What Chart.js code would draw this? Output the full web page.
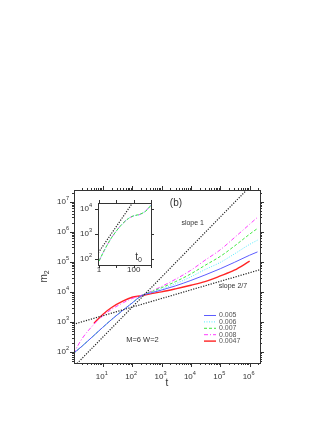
<!DOCTYPE html>
<html>
<head>
<meta charset="utf-8">
<script src="https://cdn.jsdelivr.net/npm/chart.js@4.4.1/dist/chart.umd.min.js"></script>
<style>
html, body { margin: 0; padding: 0; background: #fff; }
#wrap { position: relative; width: 333px; height: 430px; }
#wrap canvas { position: absolute; left: 0; top: 0; }
</style>
</head>
<body>
<div id="wrap">
  <canvas id="mainChart" width="333" height="430"></canvas>
  <canvas id="insetChart" width="333" height="430"></canvas>
</div>
<script>
// ---- main panel data (t vs m2) ----
const tGrid = [1, 2, 5, 10, 20, 50, 100, 200, 500, 1000, 3000, 1e4, 3e4, 1e5, 3e5, 1e6, 1.85e6];
const m005 = [89, 158, 355, 661, 1202, 2512, 4266, 7244, 9550, 11480, 15850, 23990, 36310, 58880, 95500, 166000, 213800];
const m006 = [89, 158, 355, 661, 1202, 2512, 4266, 7244, 10000, 12590, 18620, 31620, 54950, 95500, 182000, 380200, 524800];
const m007 = [89, 158, 355, 661, 1202, 2512, 4266, 7244, 10470, 13800, 21880, 39810, 75860, 151400, 331100, 831800, 1288000];
const m008 = [89, 282, 832, 1585, 2630, 4365, 6026, 7586, 10965, 15136, 26300, 52480, 112200, 251200, 631000, 1778000, 3020000];
const tRed = [5, 10, 20, 50, 100, 200, 500, 1000, 3000, 1e4, 3e4, 1e5, 3e5, 1e6];
const m0047 = [891, 1778, 3020, 5012, 6607, 7413, 8913, 10000, 12590, 16600, 21880, 33880, 52480, 104700];
const seriesLabels = ['0.005', '0.006', '0.007', '0.008', '0.0047'];

// guide lines
const tSlope1 = [1, 3e6];
const mSlope1 = [31, 9.3e7];
const tSlope27 = [1, 2.25e6];
const mSlope27 = [832, 54700];

// ---- inset data (t0 vs m2) ----
const t0Grid = [1, 2, 5, 10, 20, 50, 100, 200, 500, 1000];
const insetGreen = [85, 224, 676, 1318, 2344, 4100, 5300, 5900, 8100, 13800];
const insetCyan = [85, 224, 676, 1318, 2344, 4169, 5248, 5754, 8318, 14450];
const insetMag = [85, 224, 676, 1318, 2344, 4169, 5248, 5754, 8318, 14450];
const t0Line = [0.9, 100];
const mLine = [180, 20000];

const FONT = '"Liberation Sans", Arial, Helvetica, sans-serif';
const TXT = '#333';

function pts(xs, ys) { return xs.map((x, i) => ({ x: x, y: ys[i] })); }

function drawPow(ctx, exp, x, y, align, size) {
    const base = '10', e = String(exp);
    ctx.font = size + 'px ' + FONT;
    const wb = ctx.measureText(base).width;
    ctx.font = (size * 0.7) + 'px ' + FONT;
    const we = ctx.measureText(e).width;
    const w = wb + we;
    const x0 = align === 'right' ? x - w : x - w / 2;
    ctx.textAlign = 'left';
    ctx.textBaseline = 'middle';
    ctx.font = size + 'px ' + FONT;
    ctx.fillText(base, x0, y);
    ctx.font = (size * 0.7) + 'px ' + FONT;
    ctx.fillText(e, x0 + wb, y - size * 0.42);
}

function logTickValues(scale, withMinor) {
    const out = [];
    const lo = Math.floor(Math.log10(scale.min)), hi = Math.ceil(Math.log10(scale.max));
    for (let n = lo; n <= hi; n++) {
        for (let k = 1; k <= 9; k++) {
            if (!withMinor && k > 1) continue;
            const v = k * Math.pow(10, n);
            if (v >= scale.min * 0.999 && v <= scale.max * 1.001) out.push({ v: v, major: k === 1, exp: n });
        }
    }
    return out;
}

// frame, ticks and tick labels for a log-log panel
function framePlugin(cfg) {
    return {
        id: 'frame',
        afterDraw(chart) {
            const ctx = chart.ctx, a = chart.chartArea;
            const xs = chart.scales.x, ys = chart.scales.y;
            ctx.save();
            ctx.strokeStyle = '#333';
            ctx.lineWidth = 1;
            ctx.strokeRect(Math.round(a.left) + 0.5, Math.round(a.top) + 0.5, Math.round(a.right - a.left), Math.round(a.bottom - a.top));
            ctx.beginPath();
            logTickValues(xs, cfg.minor).forEach(t => {
                const px = Math.round(xs.getPixelForValue(t.v)) + 0.5;
                const L = t.major ? cfg.major : cfg.minorLen;
                ctx.moveTo(px, a.bottom); ctx.lineTo(px, a.bottom + L);
                ctx.moveTo(px, a.top); ctx.lineTo(px, a.top - L);
            });
            logTickValues(ys, cfg.minor).forEach(t => {
                const py = Math.round(ys.getPixelForValue(t.v)) + 0.5;
                const L = t.major ? cfg.major : cfg.minorLen;
                ctx.moveTo(a.left, py); ctx.lineTo(a.left - L, py);
                ctx.moveTo(a.right, py); ctx.lineTo(a.right + L, py);
            });
            ctx.stroke();
            ctx.fillStyle = TXT;
            logTickValues(ys, false).forEach(t => {
                drawPow(ctx, t.exp, a.left - cfg.yPad, ys.getPixelForValue(t.v), 'right', cfg.fontSize);
            });
            logTickValues(xs, false).forEach(t => {
                const px = xs.getPixelForValue(t.v);
                if (cfg.xPlain) {
                    const lab = cfg.xPlain[t.v];
                    if (lab === undefined) return;
                    ctx.font = cfg.fontSize + 'px ' + FONT;
                    ctx.textAlign = 'center'; ctx.textBaseline = 'middle';
                    ctx.fillText(lab, px, a.bottom + cfg.xPad);
                } else {
                    if (t.exp < 1) return;
                    drawPow(ctx, t.exp, px - 1, a.bottom + cfg.xPad, 'center', cfg.fontSize);
                }
            });
            if (cfg.extra) cfg.extra(chart, ctx, a, xs, ys);
            ctx.restore();
        }
    };
}

function sub(ctx, main, s, x, y, size) {
    ctx.font = size + 'px ' + FONT;
    const w1 = ctx.measureText(main).width;
    ctx.font = (size * 0.7) + 'px ' + FONT;
    const w2 = ctx.measureText(s).width;
    const x0 = x - (w1 + w2) / 2;
    ctx.textAlign = 'left'; ctx.textBaseline = 'middle';
    ctx.font = size + 'px ' + FONT;
    ctx.fillText(main, x0, y);
    ctx.font = (size * 0.7) + 'px ' + FONT;
    ctx.fillText(s, x0 + w1, y + size * 0.3);
}

const colors = ['#5c5cff', '#55eaff', '#3fe83f', '#ff3cff', '#ff2424'];
const dashes = [[], [1, 1.5], [3, 2], [4, 2, 1, 2], []];
const widths = [1, 1, 1, 1, 1.4];

function lineDs(label, data, i) {
    return {
        label: label, data: data, borderColor: colors[i], borderWidth: widths[i],
        borderDash: dashes[i], pointRadius: 0, fill: false, cubicInterpolationMode: 'monotone'
    };
}
function guideDs(data) {
    return { label: '', data: data, borderColor: '#222', borderWidth: 1.2, borderDash: [1.2, 1.4], pointRadius: 0, fill: false };
}

new Chart(document.getElementById('mainChart'), {
    type: 'line',
    data: {
        datasets: [
            guideDs(pts(tSlope1, mSlope1)),
            guideDs(pts(tSlope27, mSlope27)),
            lineDs(seriesLabels[0], pts(tGrid, m005), 0),
            lineDs(seriesLabels[1], pts(tGrid, m006), 1),
            lineDs(seriesLabels[2], pts(tGrid, m007), 2),
            lineDs(seriesLabels[3], pts(tGrid, m008), 3),
            lineDs(seriesLabels[4], pts(tRed, m0047), 4)
        ]
    },
    options: {
        responsive: false,
        animation: false,
        layout: { padding: { left: 0, top: 190, right: 73, bottom: 0 } },
        plugins: { legend: { display: false }, tooltip: { enabled: false } },
        scales: {
            x: {
                type: 'logarithmic', min: 1.05, max: 2.25e6,
                grid: { display: false, drawTicks: false }, border: { display: false },
                ticks: { display: false },
                afterFit: s => { s.height = 67; }
            },
            y: {
                type: 'logarithmic', min: 43, max: 2.45e7,
                grid: { display: false, drawTicks: false }, border: { display: false },
                ticks: { display: false },
                afterFit: s => { s.width = 74; }
            }
        }
    },
    plugins: [framePlugin({
        minor: true, major: 4, minorLen: 2, yPad: 5, xPad: 14, fontSize: 8,
        extra: (chart, ctx, a, xs, ys) => {
            ctx.fillStyle = TXT;
            ctx.textAlign = 'center'; ctx.textBaseline = 'middle';
            ctx.font = '10px ' + FONT;
            ctx.fillText('(b)', xs.getPixelForValue(3100), ys.getPixelForValue(9.0e6));
            ctx.font = '7px ' + FONT;
            ctx.fillText('slope 1', xs.getPixelForValue(11500), ys.getPixelForValue(2.0e6));
            ctx.fillText('slope 2/7', xs.getPixelForValue(2.7e5), ys.getPixelForValue(15500));
            ctx.font = '7.5px ' + FONT;
            ctx.fillText('M=6 W=2', xs.getPixelForValue(225), ys.getPixelForValue(245));
            // legend
            const lx = a.right - 56, ly = a.bottom - 48;
            chart.data.datasets.slice(2).forEach((ds, i) => {
                const y = ly + i * 6.4;
                ctx.save();
                ctx.strokeStyle = ds.borderColor; ctx.lineWidth = ds.borderWidth;
                ctx.setLineDash(ds.borderDash);
                ctx.beginPath(); ctx.moveTo(lx, y + 0.5); ctx.lineTo(lx + 12, y + 0.5); ctx.stroke();
                ctx.restore();
                ctx.fillStyle = '#555';
                ctx.font = '7px ' + FONT; ctx.textAlign = 'left'; ctx.textBaseline = 'middle';
                ctx.fillText(ds.label, lx + 15, y + 0.5);
            });
            // axis titles
            ctx.fillStyle = TXT;
            ctx.font = '10px ' + FONT; ctx.textAlign = 'center'; ctx.textBaseline = 'middle';
            ctx.fillText('t', (a.left + a.right) / 2, a.bottom + 20);
            ctx.save();
            ctx.translate(44, (a.top + a.bottom) / 2);
            ctx.rotate(-Math.PI / 2);
            sub(ctx, 'm', '2', 0, 0, 10);
            ctx.restore();
        }
    })]
});

new Chart(document.getElementById('insetChart'), {
    type: 'line',
    data: {
        datasets: [
            guideDs(pts(t0Line, mLine)),
            lineDs('0.007', pts(t0Grid, insetGreen), 2),
            lineDs('0.006', pts(t0Grid, insetCyan), 1),
            lineDs('0.008', pts(t0Grid, insetMag), 3)
        ]
    },
    options: {
        responsive: false,
        animation: false,
        layout: { padding: { left: 0, top: 203, right: 182, bottom: 0 } },
        plugins: { legend: { display: false }, tooltip: { enabled: false } },
        scales: {
            x: {
                type: 'logarithmic', min: 0.87, max: 1000,
                grid: { display: false, drawTicks: false }, border: { display: false },
                ticks: { display: false },
                afterFit: s => { s.height = 165; }
            },
            y: {
                type: 'logarithmic', min: 59, max: 17000,
                grid: { display: false, drawTicks: false }, border: { display: false },
                ticks: { display: false },
                afterFit: s => { s.width = 98; }
            }
        }
    },
    plugins: [framePlugin({
        minor: false, major: 3, minorLen: 0, yPad: 6, xPad: 5, fontSize: 8,
        xPlain: { 1: '1', 100: '100' },
        extra: (chart, ctx, a, xs, ys) => {
            ctx.fillStyle = TXT;
            sub(ctx, 't', '0', xs.getPixelForValue(190), ys.getPixelForValue(125), 10);
        }
    })]
});
</script>
</body>
</html>
